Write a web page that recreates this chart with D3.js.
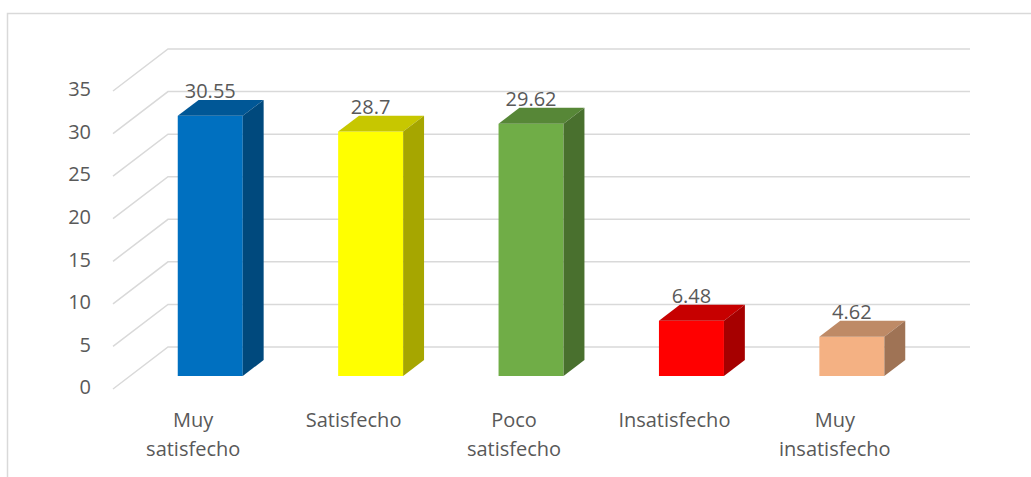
<!DOCTYPE html>
<html>
<head>
<meta charset="utf-8">
<script src="https://cdn.jsdelivr.net/npm/d3@7"></script>
<style>
  body { margin: 0; background: #fff; }
  text { font-family: "Open Sans", sans-serif; fill: #595959; }
</style>
</head>
<body>
<svg id="chart"></svg>
<script>
const categories = [["Muy", "satisfecho"], ["Satisfecho"], ["Poco", "satisfecho"], ["Insatisfecho"], ["Muy", "insatisfecho"]]
const values = [30.55, 28.7, 29.62, 6.48, 4.62]
const colors = ["#0070C0", "#FFFF00", "#70AD47", "#FF0000", "#F4B183"]
const yTicks = [0, 5, 10, 15, 20, 25, 30, 35]

const width = 1031
const height = 477
// depth of the 3d box (floor goes back this far)
const depthX = 55
const depthY = 42
const barFront = 0.31
const barBack = 0.69
const barWidth = 65

const svg = d3.select('#chart')
    .attr('width', width)
    .attr('height', height)

// outer frame
svg.append('rect')
    .attr('x', 7.5).attr('y', 13.5)
    .attr('width', width + 10).attr('height', height)
    .attr('fill', 'none')
    .attr('stroke', '#d9d9d9')
    .attr('stroke-width', 1.5)

const keys = categories.map(c => c.join(' '))
const x = d3.scaleBand().domain(keys).range([113, 915])
const y = d3.scaleLinear().domain([0, 35]).range([389, 91])

const proj = (px, v, d) => [px + depthX * d, y(v) - depthY * d]

// gridlines: floor diagonal + back wall
const grid = svg.append('g')
    .attr('stroke', '#d9d9d9')
    .attr('stroke-width', 1.5)
    .attr('fill', 'none')
grid.selectAll('path')
  .data(yTicks)
  .join('path')
    .attr('d', t => {
      const a = proj(113, t, 0), b = proj(113, t, 1), c = proj(915, t, 1)
      return `M${a}L${b}L${c}`
    })

// y axis labels
svg.append('g')
  .selectAll('text')
  .data(yTicks)
  .join('text')
    .attr('x', 91)
    .attr('y', d => y(d))
    .attr('text-anchor', 'end')
    .attr('dominant-baseline', 'middle')
    .style('font-size', '20px')
    .text(d => d)

// bars
const shade = (c, k) => {
  const r = d3.rgb(c)
  return d3.rgb(r.r * k, r.g * k, r.b * k).formatHex()
}
const bars = svg.append('g')
  .selectAll('g')
  .data(values.map((v, i) => ({ v, i, key: keys[i] })))
  .join('g')

bars.each(function(d) {
  const g = d3.select(this)
  const cx = x(d.key) + x.bandwidth() / 2
  const x0 = cx - barWidth / 2, x1 = cx + barWidth / 2
  const fbl = proj(x0, 0, barFront), fbr = proj(x1, 0, barFront)
  const ftl = proj(x0, d.v, barFront), ftr = proj(x1, d.v, barFront)
  const btl = proj(x0, d.v, barBack), btr = proj(x1, d.v, barBack)
  const bbr = proj(x1, 0, barBack)
  g.append('path')
      .attr('d', `M${fbl}L${fbr}L${ftr}L${ftl}Z`)
      .attr('fill', colors[d.i])
  g.append('path')
      .attr('d', `M${ftl}L${ftr}L${btr}L${btl}Z`)
      .attr('fill', shade(colors[d.i], 0.78))
  g.append('path')
      .attr('d', `M${fbr}L${bbr}L${btr}L${ftr}Z`)
      .attr('fill', shade(colors[d.i], 0.65))
  g.append('text')
      .attr('x', ftl[0] + barWidth / 2)
      .attr('y', btl[1] - 2)
      .attr('text-anchor', 'middle')
      .style('font-size', '20px')
      .text(d.v)
})

// category labels
const labels = svg.append('g')
  .selectAll('text')
  .data(categories)
  .join('text')
    .attr('x', (d, i) => x(keys[i]) + x.bandwidth() / 2)
    .attr('y', 427)
    .attr('text-anchor', 'middle')
    .style('font-size', '20px')
labels.selectAll('tspan')
  .data(d => d)
  .join('tspan')
    .attr('x', function() { return this.parentNode.getAttribute('x') })
    .attr('dy', (d, i) => i ? 29 : 0)
    .text(d => d)
</script>
</body>
</html>
